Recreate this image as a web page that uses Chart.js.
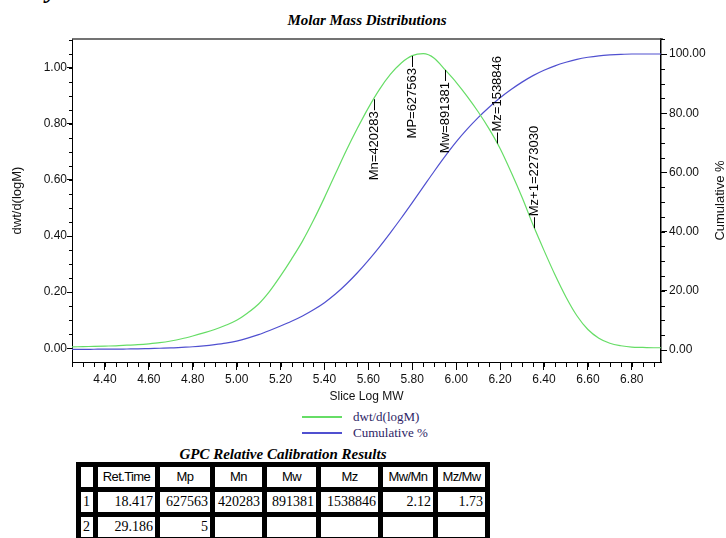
<!DOCTYPE html>
<html lang="en">
<head>
<meta charset="UTF-8" />
<title>Molar Mass Distributions</title>
<script src="https://cdn.jsdelivr.net/npm/chart.js"></script>
<style>
  html, body { margin: 0; padding: 0; background: #fff; overflow: hidden; }
  body { width: 726px; height: 538px; position: relative; font-family: "Liberation Sans", Arial, sans-serif; }
  #wrap { position: absolute; left: 0; top: 0; width: 726px; height: 404px; }
  #cut { position: absolute; left: 46px; top: -23px; font: italic bold 26px/26px "Liberation Serif", serif; }
  #title { position: absolute; left: 367px; top: 12px; transform: translateX(-50%); white-space: nowrap;
           font: italic bold 15px/17px "Liberation Serif", "Times New Roman", serif; }
  .leg { position: absolute; left: 302px; height: 16px; white-space: nowrap; }
  .leg .sw { position: absolute; left: 0; top: 7px; width: 40px; height: 1.5px; }
  .leg .tx { position: absolute; left: 51px; top: 0; font: 13px/16px "Liberation Serif", serif; color: #2d2566; }
  #ttitle { position: absolute; left: 283px; top: 446px; transform: translateX(-50%); white-space: nowrap;
            font: italic bold 15px/17px "Liberation Serif", "Times New Roman", serif; }
  #res { position: absolute; left: 76px; top: 462px; border-collapse: separate; border-spacing: 5px;
         background: #000; table-layout: fixed; width: 414px; }
  #res td { background: #fff; height: 20px; padding: 0 2px; box-sizing: border-box; white-space: nowrap; overflow: hidden;
            font: 14px/20px "Liberation Serif", serif; text-align: right; }
  #res tr.hd td { font: 13px/20px "Liberation Sans", Arial, sans-serif; letter-spacing: -0.6px; text-align: center; }
  #res td.n { text-align: left; }
</style>
</head>
<body>
  <div id="cut">y</div>
  <div id="title">Molar Mass Distributions</div>
  <div id="wrap"><canvas id="chart" width="726" height="404"></canvas></div>
  <div id="legend"></div>
  <div id="ttitle">GPC Relative Calibration Results</div>
  <table id="res"></table>
<script>
// slice log MW (x) and the two curves
const logMW = [4.25, 4.30, 4.35, 4.40, 4.45, 4.50, 4.55, 4.60, 4.65, 4.70,
               4.75, 4.80, 4.85, 4.90, 4.95, 5.00, 5.05, 5.10, 5.15, 5.20,
               5.25, 5.30, 5.35, 5.40, 5.45, 5.50, 5.55, 5.60, 5.65, 5.70,
               5.75, 5.80, 5.85, 5.90, 5.95, 6.00, 6.05, 6.10, 6.15, 6.20,
               6.25, 6.30, 6.35, 6.40, 6.45, 6.50, 6.55, 6.60, 6.65, 6.70,
               6.75, 6.80, 6.85, 6.90, 6.95];
const dwt = [0.005, 0.006, 0.007, 0.008, 0.009, 0.011, 0.013, 0.016, 0.020, 0.026,
             0.034, 0.044, 0.055, 0.067, 0.082, 0.100, 0.126, 0.158, 0.203, 0.258,
             0.318, 0.382, 0.456, 0.537, 0.622, 0.706, 0.784, 0.857, 0.922, 0.976,
             1.017, 1.043, 1.050, 1.034, 0.992, 0.948, 0.898, 0.843, 0.782, 0.712,
             0.628, 0.538, 0.440, 0.349, 0.262, 0.183, 0.116, 0.067, 0.036, 0.018,
             0.009, 0.004, 0.003, 0.002, 0.002];
const cumulative = [0.2, 0.2, 0.25, 0.3, 0.3, 0.35, 0.4, 0.5, 0.6, 0.7,
                    0.9, 1.1, 1.4, 1.8, 2.3, 3.0, 4.0, 5.2, 6.6, 8.1,
                    9.7, 11.5, 13.6, 16.0, 18.9, 22.3, 26.1, 30.3, 34.8, 39.6,
                    44.6, 49.8, 55.1, 60.4, 65.5, 70.3, 74.6, 78.5, 82.0, 85.2,
                    88.0, 90.5, 92.7, 94.5, 96.0, 97.2, 98.2, 98.9, 99.4, 99.7,
                    99.9, 100, 100, 100, 100];
const seriesNames = ['dwt/d(logM)', 'Cumulative %'];
const seriesColors = ['#66dd66', '#5050d0'];

const xTicks = [4.4, 4.6, 4.8, 5.0, 5.2, 5.4, 5.6, 5.8, 6.0, 6.2, 6.4, 6.6, 6.8];
const yTicks = [0, 0.2, 0.4, 0.6, 0.8, 1.0];
const y1Ticks = [0, 20, 40, 60, 80, 100];

const markerNames = ['Mn', 'MP', 'Mw', 'Mz', 'Mz+1'];
const markerMW = [420283, 627563, 891381, 1538846, 2273030];
const markerUp = [false, false, false, true, true];

const tableHead = ['', 'Ret.Time', 'Mp', 'Mn', 'Mw', 'Mz', 'Mw/Mn', 'Mz/Mw'];
const tableRows = [
  ['1', '18.417', '627563', '420283', '891381', '1538846', '2.12', '1.73'],
  ['2', '29.186', '5', '', '', '', '', '']
];
const colWidths = [12, 57, 50, 47, 49, 57, 50, 47];

// green curve value at a given log MW, used to sit the marker labels on it
function dwtAt(v) {
  for (let i = 1; i < logMW.length; i++) {
    if (v <= logMW[i]) {
      const t = (v - logMW[i - 1]) / (logMW[i] - logMW[i - 1]);
      return dwt[i - 1] + t * (dwt[i] - dwt[i - 1]);
    }
  }
  return dwt[dwt.length - 1];
}

const extras = {
  id: 'extras',
  afterDatasetsDraw(chart) {
    const { ctx, scales } = chart;
    ctx.save();
    ctx.fillStyle = '#000';
    ctx.strokeStyle = '#000';
    ctx.lineWidth = 1;
    ctx.font = '13px "Liberation Sans", Arial, sans-serif';
    ctx.textBaseline = 'middle';
    markerMW.forEach((m, i) => {
      const lv = Math.log10(m);
      const px = Math.round(scales.x.getPixelForValue(lv)) + 0.5;
      const py = scales.y.getPixelForValue(dwtAt(lv));
      const label = markerNames[i] + '=' + m;
      ctx.save();
      ctx.translate(px, py);
      ctx.rotate(-Math.PI / 2);
      ctx.beginPath();
      if (markerUp[i]) {
        ctx.moveTo(0, 0); ctx.lineTo(11, 0); ctx.stroke();
        ctx.textAlign = 'left';
        ctx.fillText(label, 12, 0);
      } else {
        ctx.moveTo(0, 0); ctx.lineTo(-11, 0); ctx.stroke();
        ctx.textAlign = 'right';
        ctx.fillText(label, -12, 0);
      }
      ctx.restore();
    });
    ctx.restore();
  },
  afterDraw(chart) {
    const { ctx, chartArea: a, scales } = chart;
    ctx.save();
    // top frame
    ctx.strokeStyle = '#444';
    ctx.lineWidth = 1.5;
    ctx.beginPath();
    ctx.moveTo(a.left, a.top); ctx.lineTo(a.right + 2, a.top);
    ctx.stroke();
    // minor ticks
    ctx.strokeStyle = '#000';
    ctx.lineWidth = 1;
    const each = (scale, step, fn) => {
      for (let k = Math.ceil(scale.min / step - 1e-6); k * step <= scale.max + 1e-9; k++) {
        fn(Math.round(scale.getPixelForValue(k * step)) + 0.5);
      }
    };
    ctx.beginPath();
    each(scales.x, 0.05, p => { ctx.moveTo(p, a.bottom); ctx.lineTo(p, a.bottom + 5); });
    each(scales.y, 0.05, p => { ctx.moveTo(a.left - 3, p); ctx.lineTo(a.left, p); });
    each(scales.y1, 5, p => { ctx.moveTo(a.right, p); ctx.lineTo(a.right + 4, p); });
    ctx.stroke();
    // right axis title (reads bottom to top, like the left one)
    ctx.fillStyle = '#111';
    ctx.font = '13px "Liberation Sans", Arial, sans-serif';
    ctx.textAlign = 'center';
    ctx.textBaseline = 'middle';
    ctx.translate(720.5, (a.top + a.bottom) / 2);
    ctx.rotate(-Math.PI / 2);
    ctx.fillText(seriesNames[1], 0, 0);
    ctx.restore();
  }
};

const tickFont = { family: '"Liberation Sans", Arial, sans-serif', size: 12 };

new Chart(document.getElementById('chart'), {
  type: 'line',
  data: {
    datasets: [
      { label: seriesNames[0], data: logMW.map((x, i) => ({ x, y: dwt[i] })), yAxisID: 'y',
        borderColor: seriesColors[0], borderWidth: 1.2, pointRadius: 0, cubicInterpolationMode: 'monotone', fill: false },
      { label: seriesNames[1], data: logMW.map((x, i) => ({ x, y: cumulative[i] })), yAxisID: 'y1',
        borderColor: seriesColors[1], borderWidth: 1.2, pointRadius: 0, cubicInterpolationMode: 'monotone', fill: false }
    ]
  },
  options: {
    responsive: false,
    animation: false,
    layout: { padding: { top: 39, left: 0, right: 0, bottom: 0 } },
    plugins: { legend: { display: false }, tooltip: { enabled: false } },
    scales: {
      x: {
        type: 'linear', min: 4.25, max: 6.933,
        afterBuildTicks: s => { s.ticks = xTicks.map(v => ({ value: v })); },
        afterFit: s => { s.height = 42; },
        ticks: { callback: v => v.toFixed(2), autoSkip: false, maxRotation: 0, padding: 2, color: '#111', font: tickFont },
        grid: { drawOnChartArea: false, tickLength: 8, tickColor: '#000' },
        border: { color: '#000', width: 1 },
        title: { display: true, text: 'Slice Log MW', color: '#111', font: tickFont, padding: 0 }
      },
      y: {
        position: 'left', min: -0.0488, max: 1.1023,
        afterBuildTicks: s => { s.ticks = yTicks.map(v => ({ value: v })); },
        afterFit: s => { s.width = 72; },
        ticks: { callback: v => v.toFixed(2), autoSkip: false, padding: 0, color: '#111', font: tickFont },
        grid: { drawOnChartArea: false, tickLength: 5, tickColor: '#000' },
        border: { color: '#000', width: 1 },
        title: { display: true, text: seriesNames[0], color: '#111',
                 font: { family: '"Liberation Sans", Arial, sans-serif', size: 13 }, padding: { top: 10, bottom: 0 } }
      },
      y1: {
        position: 'right', min: -4.05, max: 105.07,
        afterBuildTicks: s => { s.ticks = y1Ticks.map(v => ({ value: v })); },
        afterFit: s => { s.width = 65; },
        ticks: { callback: v => v.toFixed(2), autoSkip: false, padding: 2, color: '#111', font: tickFont },
        grid: { drawOnChartArea: false, tickLength: 6, tickColor: '#000' },
        border: { color: '#000', width: 1.5 }
      }
    }
  },
  plugins: [extras]
});

// legend under the plot
const legend = document.getElementById('legend');
seriesNames.forEach((name, i) => {
  const d = document.createElement('div');
  d.className = 'leg';
  d.style.top = (409 + i * 16) + 'px';
  d.innerHTML = '<span class="sw" style="background:' + seriesColors[i] + '"></span><span class="tx"></span>';
  d.querySelector('.tx').textContent = name;
  legend.appendChild(d);
});

// results table
const table = document.getElementById('res');
function addRow(cells, head) {
  const tr = document.createElement('tr');
  if (head) tr.className = 'hd';
  cells.forEach((c, j) => {
    const td = document.createElement('td');
    td.style.width = colWidths[j] + 'px';
    if (j === 0) td.className = 'n';
    td.textContent = c;
    tr.appendChild(td);
  });
  table.appendChild(tr);
}
addRow(tableHead, true);
tableRows.forEach(r => addRow(r, false));
</script>
</body>
</html>
